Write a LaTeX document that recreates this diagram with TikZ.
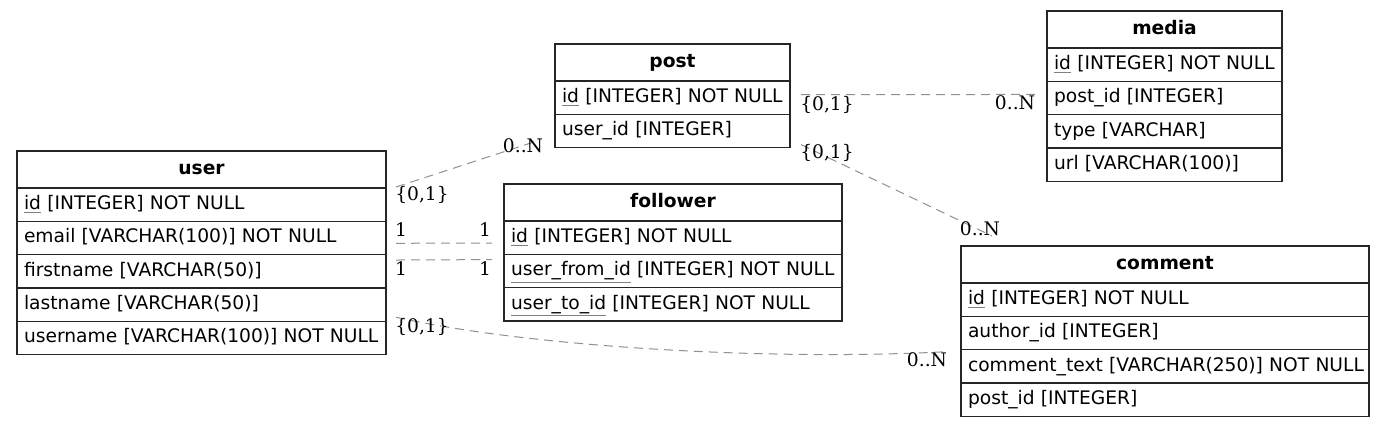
\documentclass[tikz,border=0pt]{standalone}
\usepackage{fontspec}
\setmainfont{DejaVu Sans}
\newfontfamily\lblfont{DejaVu Serif}
\usetikzlibrary{calc}
\definecolor{edgegray}{HTML}{909090}
\definecolor{boxline}{HTML}{262626}
\newcommand\pk[1]{{\color{gray}\underline{\color{black}#1}}}
\tikzset{
  hdr/.style={draw=boxline, line width=0.9pt, anchor=north west, outer sep=0pt, inner xsep=5.25pt, inner ysep=0pt,
    minimum height=27.75pt, text height=10.5pt, text depth=3pt, align=center,
    font=\fontsize{14pt}{16pt}\selectfont\bfseries},
  row/.style={draw=boxline, line width=0.9pt, anchor=north west, outer sep=0pt, inner xsep=5.25pt, inner ysep=0pt,
    minimum height=24.98pt, text height=10.5pt, text depth=3pt, align=left,
    font=\fontsize{14pt}{16pt}\selectfont},
  lbl/.style={font=\lblfont\fontsize{14pt}{16pt}\selectfont, inner sep=0pt},
  rel/.style={draw=edgegray, line width=0.75pt, dash pattern=on 6.75pt off 4.5pt},
}
\begin{document}
\begin{tikzpicture}[x=0.75pt,y=-0.75pt]
\fill[white] (0,0) rectangle (1385,428);
% user
\node[hdr, text width=266.25pt] (user) at (17,151) {user};
\node[row, text width=266.25pt] (user-id) at (user.south west) {\mbox{\pk{id} [INTEGER] NOT NULL}};
\node[row, text width=266.25pt] (user-email) at (user-id.south west) {\mbox{email [VARCHAR(100)] NOT NULL}};
\node[row, text width=266.25pt] (user-first) at (user-email.south west) {\mbox{firstname [VARCHAR(50)]}};
\node[row, text width=266.25pt] (user-last) at (user-first.south west) {\mbox{lastname [VARCHAR(50)]}};
\node[row, text width=266.25pt] (user-uname) at (user-last.south west) {\mbox{username [VARCHAR(100)] NOT NULL}};
% post
\node[hdr, text width=165.75pt] (post) at (555,44) {post};
\node[row, text width=165.75pt] (post-id) at (post.south west) {\mbox{\pk{id} [INTEGER] NOT NULL}};
\node[row, text width=165.75pt] (post-uid) at (post-id.south west) {\mbox{user\_id [INTEGER]}};
% follower
\node[hdr, text width=243pt] (follower) at (504,184) {follower};
\node[row, text width=243pt] (follower-id) at (follower.south west) {\mbox{\pk{id} [INTEGER] NOT NULL}};
\node[row, text width=243pt] (follower-from) at (follower-id.south west) {\mbox{\pk{user\_from\_id} [INTEGER] NOT NULL}};
\node[row, text width=243pt] (follower-to) at (follower-from.south west) {\mbox{\pk{user\_to\_id} [INTEGER] NOT NULL}};
% media
\node[hdr, text width=165.75pt] (media) at (1047,11) {media};
\node[row, text width=165.75pt] (media-id) at (media.south west) {\mbox{\pk{id} [INTEGER] NOT NULL}};
\node[row, text width=165.75pt] (media-pid) at (media-id.south west) {\mbox{post\_id [INTEGER]}};
\node[row, text width=165.75pt] (media-type) at (media-pid.south west) {\mbox{type [VARCHAR]}};
\node[row, text width=165.75pt] (media-url) at (media-type.south west) {\mbox{url [VARCHAR(100)]}};
% comment
\node[hdr, text width=295.5pt] (comment) at (961,246) {comment};
\node[row, text width=295.5pt] (comment-id) at (comment.south west) {\mbox{\pk{id} [INTEGER] NOT NULL}};
\node[row, text width=295.5pt] (comment-aid) at (comment-id.south west) {\mbox{author\_id [INTEGER]}};
\node[row, text width=295.5pt] (comment-text) at (comment-aid.south west) {\mbox{comment\_text [VARCHAR(250)] NOT NULL}};
\node[row, text width=295.5pt] (comment-pid) at (comment-text.south west) {\mbox{post\_id [INTEGER]}};
% connector ends
\coordinate (up-s) at ($(user.north east)+(10,36)$);
\coordinate (up-e) at ($(post-uid.south west)+(-20,-6)$);
\coordinate (uf1-s) at ($(user-email.north east)+(10,22)$);
\coordinate (uf1-e) at ($(follower-id.north west)+(-12,22)$);
\coordinate (uf2-s) at ($(user-first.north east)+(10,5.4)$);
\coordinate (uf2-e) at ($(follower-from.north west)+(-12,5.3)$);
\coordinate (uc-s) at ($(user-uname.north east)+(10,-4)$);
\coordinate (uc-e) at ($(comment-text.north west)+(-13,2)$);
\coordinate (pm-s) at ($(post-id.east)+(11,-3)$);
\coordinate (pm-e) at ($(media-pid.west)+(-10,-3.5)$);
\coordinate (pc-s) at ($(post-uid.south east)+(11,-3)$);
\coordinate (pc-e) at ($(comment.north west)+(31,-10)$);
% connectors
\draw[rel] (up-s) -- (up-e);
\draw[rel] (uf1-s) -- (uf1-e);
\draw[rel] (uf2-s) -- (uf2-e);
\draw[rel] (uc-s) .. controls ($(uc-s)+(124,28)$) and ($(uc-e)+(-188,10)$) .. (uc-e);
\draw[rel] (pm-s) -- (pm-e);
\draw[rel] (pc-s) -- (pc-e);
% labels
\node[lbl] (l-up-t) at (422,195) {\{0,1\}};
\node[lbl] (l-up-h) at (523,146) {0..N};
\node[lbl] (l-uf1-t) at (401,230) {1};
\node[lbl] (l-uf1-h) at (485,230) {1};
\node[lbl] (l-uf2-t) at (401,269) {1};
\node[lbl] (l-uf2-h) at (485,269) {1};
\node[lbl] (l-uc-t) at (422,327) {\{0,1\}};
\node[lbl] (l-uc-h) at (927,360) {0..N};
\node[lbl] (l-pm-t) at (827,105) {\{0,1\}};
\node[lbl] (l-pm-h) at (1015,103) {0..N};
\node[lbl] (l-pc-t) at (827,153) {\{0,1\}};
\node[lbl] (l-pc-h) at (980,229) {0..N};
\end{tikzpicture}
\end{document}
